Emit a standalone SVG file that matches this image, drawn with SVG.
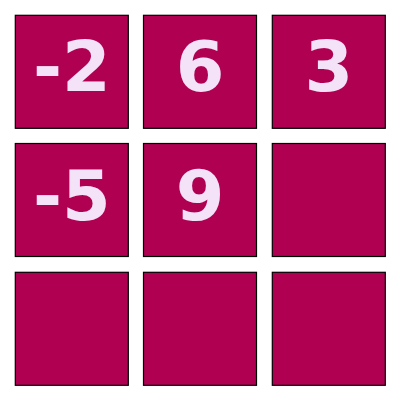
<svg xmlns="http://www.w3.org/2000/svg" width="400" height="400" viewBox="0 0 400 400">
<style>
.c{fill:#B00052;stroke:#000;stroke-width:1.2}
.t{fill:#F3E2F8;font-family:"DejaVu Sans",sans-serif;font-weight:bold;font-size:70px;text-anchor:middle}
</style>
<rect width="400" height="400" fill="#fff"/>
<g id="c00"><rect class="c" x="15.3" y="15.3" width="113" height="113"/><text class="t" x="71.8" y="91">-2</text></g>
<g id="c01"><rect class="c" x="143.5" y="15.3" width="113" height="113"/><text class="t" x="200" y="91">6</text></g>
<g id="c02"><rect class="c" x="272.3" y="15.3" width="113" height="113"/><text class="t" x="328.8" y="91">3</text></g>
<g id="c10"><rect class="c" x="15.3" y="143.5" width="113" height="113"/><text class="t" x="71.8" y="219.5">-5</text></g>
<g id="c11"><rect class="c" x="143.5" y="143.5" width="113" height="113"/><text class="t" x="200" y="219.5">9</text></g>
<g id="c12"><rect class="c" x="272.3" y="143.5" width="113" height="113"/></g>
<g id="c20"><rect class="c" x="15.3" y="272.3" width="113" height="113"/></g>
<g id="c21"><rect class="c" x="143.5" y="272.3" width="113" height="113"/></g>
<g id="c22"><rect class="c" x="272.3" y="272.3" width="113" height="113"/></g>
<g id="connectors"/>
</svg>
